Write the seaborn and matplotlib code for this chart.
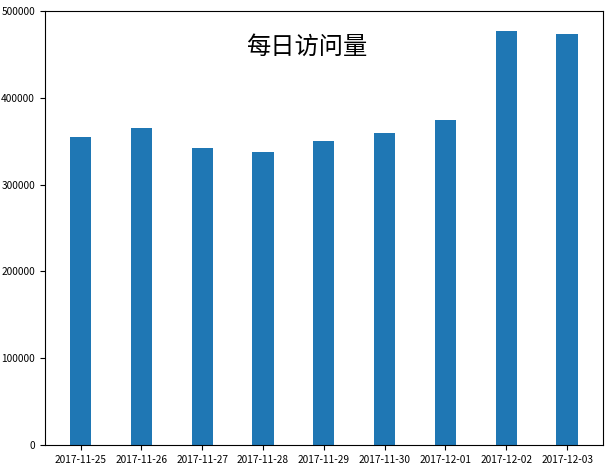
import pandas as pd
import seaborn as sns
import matplotlib
matplotlib.use("Agg")
import matplotlib.pyplot as plt

datas = [
    "2017-11-25", "2017-11-26", "2017-11-27", "2017-11-28", "2017-11-29",
    "2017-11-30", "2017-12-01", "2017-12-02", "2017-12-03",
]
visitas = [355000, 365000, 342000, 338000, 350000, 359000, 374000, 477000, 473000]

dados = pd.DataFrame({"data": datas, "pv": visitas})

sns.set_style("ticks")
plt.rcParams["font.family"] = ["Noto Sans CJK SC", "DejaVu Sans"]
plt.rcParams["axes.edgecolor"] = "black"

fig = plt.figure(figsize=(6.09, 4.67), dpi=100)
ax = fig.add_axes([0.0734, 0.0471, 0.9166, 0.9293])

sns.barplot(x="data", y="pv", data=dados, color="#1f77b4", saturation=1,
            width=0.35, linewidth=0, ax=ax)

ax.set_xlim(-0.59, 8.59)
ax.set_ylim(0, 500000)
ax.set_xlabel("")
ax.set_ylabel("")
ax.tick_params(labelsize=7.3, colors="black", length=3.5)
for s in ax.spines.values():
    s.set_visible(True)
    s.set_linewidth(0.8)

# 标题放在图内
fig.suptitle("每日访问量", fontsize=17.5, x=0.503, y=0.9, va="center", color="black")

fig.savefig("out.png", dpi=100)
